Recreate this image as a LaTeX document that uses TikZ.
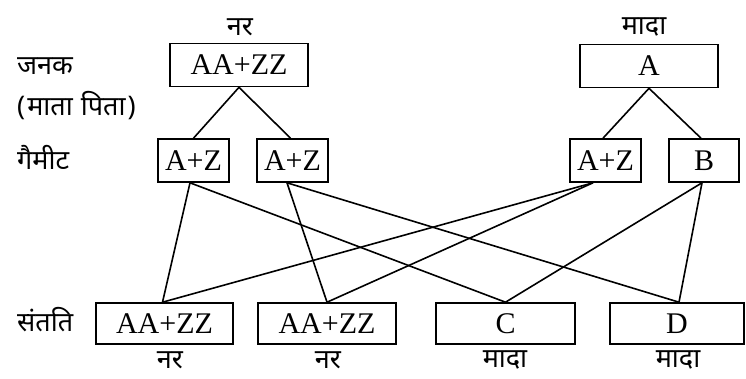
\documentclass[tikz,border=0pt]{standalone}
\usepackage{fontspec}
\setmainfont{Liberation Serif}
\newfontfamily\hindi[Script=Devanagari]{Noto Sans}
\begin{document}
\begin{tikzpicture}[x=1pt,y=-1pt,
  box/.style={draw,line width=1.6pt,inner sep=0pt,minimum height=43pt,font=\fontsize{30}{34}\selectfont},
  lbl/.style={inner sep=0pt,font=\hindi\fontsize{27}{31}\selectfont},
  side/.style={lbl,anchor=west},
  con/.style={line width=1.6pt}]
\useasboundingbox (0,0) rectangle (746,378);
% parents
\node[box,minimum width=138pt] (p1) at (239,65) {AA+ZZ};
\node[box,minimum width=138pt] (p2) at (649,66) {A};
% gametes
\node[box,minimum width=71pt] (g1) at (193.5,160.5) {A+Z};
\node[box,minimum width=71pt] (g2) at (292.5,160.5) {A+Z};
\node[box,minimum width=71pt] (g3) at (605.5,160.5) {A+Z};
\node[box,minimum width=70pt] (g4) at (704,160.5) {B};
% offspring
\node[box,minimum width=137pt,minimum height=41pt] (o1) at (164.5,323.5) {AA+ZZ};
\node[box,minimum width=138pt,minimum height=41pt] (o2) at (327,323.5) {AA+ZZ};
\node[box,minimum width=139pt,minimum height=41pt] (o3) at (505.5,323.5) {C};
\node[box,minimum width=134pt,minimum height=41pt] (o4) at (677,323.5) {D};
% labels
\node[lbl] (tm) at (240,27) {नर};
\node[lbl] (tf) at (644,27) {मादा};
\node[side] (s1) at (17,66) {जनक};
\node[side] (s2) at (17,106) {(\kern2ptमाता\hspace{8pt}पिता\kern2pt)};
\node[side] (s3) at (17,157) {गैमीट};
\node[side] (s4) at (17,320) {संतति};
\node[lbl] (b1) at (170,360) {नर};
\node[lbl] (b2) at (328,360) {नर};
\node[lbl] (b3) at (505,360) {मादा};
\node[lbl] (b4) at (678,360) {मादा};
% connectors
\draw[con] (p1.south) -- (g1.north);
\draw[con] (p1.south) -- ([xshift=-2pt]g2.north);
\draw[con] (p2.south) -- ([xshift=-2.5pt]g3.north);
\draw[con] (p2.south) -- ([xshift=-3pt]g4.north);
\draw[con] ([xshift=-3.5pt]g1.south) -- ([xshift=-2pt]o1.north);
\draw[con] ([xshift=-3.5pt]g1.south) -- (o3.north);
\draw[con] ([xshift=-5.5pt]g2.south) -- (o2.north);
\draw[con] ([xshift=-5.5pt]g2.south) -- ([xshift=2pt]o4.north);
\draw[con] ([xshift=-12.5pt]g3.south) -- ([xshift=-2pt]o1.north);
\draw[con] ([xshift=-12.5pt]g3.south) -- (o2.north);
\draw[con] ([xshift=-2pt]g4.south) -- (o3.north);
\draw[con] ([xshift=-2pt]g4.south) -- ([xshift=2pt]o4.north);
\end{tikzpicture}
\end{document}
